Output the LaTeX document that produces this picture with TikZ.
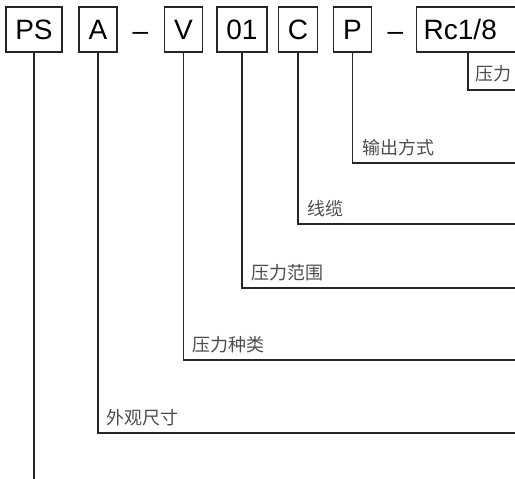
\documentclass[tikz,border=0pt]{standalone}
\usepackage{fontspec}
\setmainfont{Liberation Sans}
\newfontfamily\cjk{Noto Sans CJK SC}
\begin{document}
\begin{tikzpicture}[x=1pt,y=-1pt,
    code/.style={draw=black!85,line width=1.4pt,minimum height=45pt,inner xsep=9.5pt,
      font=\fontsize{28}{28}\selectfont,text height=20pt,text depth=0pt},
    hyphen/.style={anchor=base,inner sep=0pt,font=\fontsize{28}{28}\selectfont},
    lead/.style={draw=black!85,line width=1.2pt},
    note/.style={anchor=base west,inner sep=0pt,text=black!70,font=\cjk\fontsize{18}{18}\selectfont}]
  \useasboundingbox (0,0) rectangle (515,479);
  \clip (0,0) rectangle (515,479);
  \node[code] (ps) at (34,29.5) {PS};
  \node[code] (size) at (98,29.5) {A};
  \node[hyphen] (d1) at (140.5,40) {–};
  \node[code] (kind) at (183.5,29.5) {V};
  \node[code,minimum width=46pt] (range) at (242,29.5) {01};
  \node[code] (cable) at (298,29.5) {C};
  \node[code] (out) at (352.5,29.5) {P};
  \node[hyphen] (d2) at (395.5,40) {–};
  \node[code,anchor=west,inner xsep=7pt,text width=106pt,align=left] (port) at (416,29.5) {Rc1/8};
  \coordinate (portfoot) at ([xshift=52pt]port.south west);
  \coordinate (psend) at (34,479);
  \coordinate (portend) at (520,90);
  \coordinate (outend) at (520,163);
  \coordinate (cableend) at (520,224);
  \coordinate (rangeend) at (520,288);
  \coordinate (kindend) at (520,360);
  \coordinate (sizeend) at (520,433);
  \draw[lead] (ps.south) -- (psend);
  \draw[lead] (size.south) |- (sizeend);
  \draw[lead] (kind.south) |- (kindend);
  \draw[lead] (range.south) |- (rangeend);
  \draw[lead] (cable.south) |- (cableend);
  \draw[lead] (out.south) |- (outend);
  \draw[lead] (portfoot) |- (portend);
  \node[note] (tport) at (475,81) {压力};
  \node[note] (tout) at (362,154) {输出方式};
  \node[note] (tcable) at (307,215) {线缆};
  \node[note] (trange) at (251,279) {压力范围};
  \node[note] (tkind) at (192,351) {压力种类};
  \node[note] (tsize) at (106,424) {外观尺寸};
\end{tikzpicture}
\end{document}
